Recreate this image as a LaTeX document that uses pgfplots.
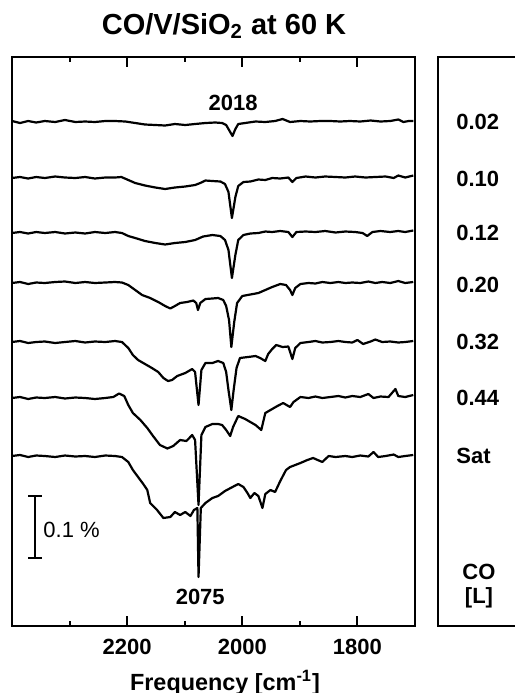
\documentclass[border=0pt]{standalone}
\usepackage{fontspec}
\setmainfont{Liberation Sans}
\usepackage{pgfplots}
\pgfplotsset{compat=1.18}

\begin{document}
\begin{tikzpicture}
\useasboundingbox (0pt,0pt) rectangle (257.5pt,346.5pt);
\begin{axis}[
  at={(6pt,33.5pt)}, anchor=south west, scale only axis,
  width=201.5pt, height=284.5pt,
  x dir=reverse, xmin=1700, xmax=2400,
  y dir=reverse, ymin=57, ymax=626,
  xtick={1800,2000,2200}, minor xtick={1900,2100,2300}, ytick=\empty,
  xtick pos=both, xticklabel pos=lower, tick align=inside,
  major tick length=5pt, minor tick length=2.5pt,
  every tick/.style={black, line width=1pt},
  axis line style={line width=1.3pt},
  /pgf/number format/assume math mode=true,
  /pgf/number format/1000 sep={},
  xticklabel style={font=\bfseries\fontsize{11}{13}\selectfont, yshift=-3pt},
]
% 0.02 L
\addplot[black, line width=1.1pt, line join=round] coordinates {
(2400,121)(2386,123)(2372,121)(2358,122.5)(2343,121)(2325,122)(2308,120)(2290,122)(2273,121.5)(2256,122)
(2238,121)(2221,121)(2203,121.5)(2186,123)(2169,124.5)(2151,125)(2134,125.5)(2117,124)(2099,125)(2082,124)
(2064,123)(2047,122.5)(2035,123)(2028,125)(2023,130)(2017,136)(2012,129)(2007,124)(1995,123)(1977,121.5)
(1960,122)(1943,121)(1930,119)(1917,122)(1899,121)(1882,121.5)(1864,121)(1847,121)(1830,121.5)(1813,121)
(1795,121.5)(1777,120.5)(1760,121.5)(1743,121)(1729,119.5)(1720,122)(1711,121)(1703,121)};
% 0.10 L
\addplot[black, line width=1.1pt, line join=round] coordinates {
(2400,178)(2386,177)(2372,178.5)(2358,177)(2343,178)(2325,176.5)(2308,177.5)(2290,178)(2273,177)(2256,178.5)
(2238,177.5)(2221,177.5)(2210,177)(2198,180)(2186,183)(2169,185.5)(2151,187.5)(2134,189)(2117,187.5)(2099,186.5)
(2082,185)(2073,183)(2064,180.5)(2052,181)(2038,181.5)(2030,184)(2024,192)(2018,218)(2012,197)(2007,186)
(1998,182)(1986,181.5)(1972,179.5)(1960,180)(1948,178)(1934,178.5)(1920,177.5)(1913,182)(1906,178)(1890,176.5)
(1873,177.5)(1856,176.5)(1838,177)(1821,177.5)(1804,176.5)(1786,177.5)(1769,177)(1751,176.5)(1737,178)(1729,175.5)
(1717,177.5)(1703,175.5)};
% 0.12 L
\addplot[black, line width=1.1pt, line join=round] coordinates {
(2400,233)(2386,232)(2372,233.5)(2358,232)(2343,233)(2325,232)(2308,233.5)(2290,232.5)(2273,233.5)(2256,232)
(2238,233)(2221,232)(2209,233)(2198,236)(2186,238)(2169,241)(2151,243)(2134,244.5)(2117,243)(2099,242)
(2082,240)(2068,236.5)(2052,235)(2038,236)(2030,240)(2024,250)(2018,278)(2012,255)(2007,240)(1998,235)
(1986,233.5)(1972,233)(1960,231.5)(1948,232)(1934,231)(1920,232)(1913,237)(1906,232)(1890,231.5)(1873,232)
(1856,231)(1838,232.5)(1821,231.5)(1804,232)(1791,233)(1783,236)(1774,232)(1760,231)(1743,232)(1729,231)
(1717,232)(1703,230.5)};
% 0.20 L
\addplot[black, line width=1.1pt, line join=round] coordinates {
(2400,283)(2386,282)(2372,284)(2358,282.5)(2343,283)(2325,282)(2308,281.5)(2290,283)(2273,282)(2256,283)
(2238,282.5)(2221,282)(2209,282.5)(2198,285)(2186,290)(2174,295)(2160,298)(2146,302)(2134,306)(2125,308.5)
(2117,306)(2108,303)(2096,302)(2085,300.5)(2080,303)(2077,310)(2073,303)(2064,299)(2052,298.5)(2042,298)
(2033,300)(2028,306)(2023,320)(2019,347)(2014,322)(2009,303)(2000,296)(1986,294.5)(1972,293)(1960,290)
(1948,287)(1934,284)(1924,285)(1917,290)(1913,295)(1908,288)(1899,284)(1885,283)(1873,283.5)(1861,282)
(1847,283)(1833,282)(1821,283)(1809,282.5)(1795,283)(1781,281.5)(1769,283)(1757,282)(1743,283)(1729,281)
(1717,283)(1703,282)};
% 0.32 L
\addplot[black, line width=1.1pt, line join=round] coordinates {
(2400,342)(2386,341)(2372,343)(2358,342)(2343,341.5)(2325,343)(2308,342)(2290,341)(2273,342.5)(2256,341.5)
(2238,342)(2221,341)(2209,342)(2198,348)(2190,355)(2181,360)(2169,364)(2157,368)(2146,372)(2137,378)
(2129,381)(2122,380)(2113,376)(2099,373)(2087,369)(2082,372)(2076,405)(2071,370)(2064,363)(2052,363)
(2042,361)(2033,363)(2028,372)(2024,390)(2019,410)(2015,390)(2010,368)(2004,358)(1990,357)(1977,356)
(1969,358)(1960,361)(1955,354)(1948,349)(1941,345)(1930,347)(1920,346.5)(1913,359)(1908,348)(1899,343)
(1885,342)(1873,341)(1861,342.5)(1847,342)(1833,341)(1821,342)(1809,342.5)(1800,340)(1790,344)(1777,341.5)
(1769,339.5)(1757,342)(1743,341.5)(1729,342.5)(1717,342)(1703,341)};
% 0.44 L
\addplot[black, line width=1.1pt, line join=round] coordinates {
(2400,398)(2386,397)(2372,399)(2358,397.5)(2343,398)(2325,397)(2308,398.5)(2290,397.5)(2273,398)(2256,399)
(2238,398)(2224,397)(2214,393.5)(2205,396)(2198,405)(2190,413)(2177,420)(2165,428)(2155,436)(2143,445)
(2130,448.5)(2120,446)(2108,440)(2097,441)(2087,435)(2082,440)(2076,505)(2071,435)(2064,427)(2052,424)
(2042,424)(2035,425)(2028,430)(2021,436)(2016,427)(2007,416)(1995,419)(1986,422)(1977,425)(1967,430)
(1960,413)(1951,410)(1939,406)(1929,403)(1917,407)(1911,402)(1899,397)(1885,398)(1873,396.5)(1861,398)
(1847,397)(1833,396)(1821,397.5)(1809,396)(1795,397)(1781,394)(1772,398)(1760,396.5)(1746,397)(1734,389)
(1729,396)(1717,397)(1703,395)};
% saturation
\addplot[black, line width=1.1pt, line join=round] coordinates {
(2400,456)(2386,455)(2372,457)(2358,455.5)(2343,456)(2325,457)(2308,455.5)(2290,456.5)(2273,456)(2256,457)
(2238,455.5)(2221,456)(2209,457)(2198,462)(2190,470)(2181,477)(2172,484)(2165,490)(2160,503)(2148,510)
(2137,518)(2125,517)(2117,512)(2108,515)(2099,512)(2090,516)(2084,510)(2078,508)(2076,577)(2072,508)
(2064,503)(2052,498)(2042,496)(2030,491)(2017,487)(2007,484)(1998,487)(1991,493)(1986,498)(1979,493)
(1972,496)(1965,508)(1960,494)(1951,490)(1943,492)(1934,481)(1924,470)(1917,467)(1899,463)(1887,460)
(1877,458)(1861,462)(1850,456)(1838,457)(1821,456)(1809,457)(1795,455.5)(1781,456.5)(1772,452)(1764,457)
(1751,456)(1737,454.5)(1729,457)(1717,456)(1703,455)};
% peak labels
\node[anchor=base, font=\bfseries\fontsize{11}{13}\selectfont] at (axis cs:2016,110) {2018};
\node[anchor=base, font=\bfseries\fontsize{11}{13}\selectfont] at (axis cs:2073,604) {2075};
% scale bar
\draw[line width=1pt] (axis cs:2360,496) -- (axis cs:2360,558);
\draw[line width=1pt] (axis cs:2372,496) -- (axis cs:2348,496);
\draw[line width=1pt] (axis cs:2372,558) -- (axis cs:2348,558);
\node[anchor=west, inner sep=0pt, font=\fontsize{11}{13}\selectfont] at (axis cs:2346,529.5) {0.1 \%};
\end{axis}
% title and x label
\node[anchor=base, font=\bfseries\fontsize{14.5}{17}\selectfont] at (112pt,329.5pt) {CO/V/SiO\textsubscript{2} at 60 K};
\node[anchor=base, font=\bfseries\fontsize{11.7}{14}\selectfont] at (112.5pt,1.5pt) {Frequency [cm\textsuperscript{-1}]};
% right panel with exposures
\draw[line width=1.3pt] (219pt,33.5pt) rectangle (275pt,318pt);
\begin{scope}[every node/.style={anchor=west, inner sep=0pt, font=\bfseries\fontsize{11}{13}\selectfont}]
\node at (228pt,285.5pt) {0.02};
\node at (228pt,257pt) {0.10};
\node at (228pt,230pt) {0.12};
\node at (228pt,204pt) {0.20};
\node at (228pt,175.5pt) {0.32};
\node at (228pt,147.5pt) {0.44};
\node at (228pt,118.5pt) {Sat};
\end{scope}
\node[font=\bfseries\fontsize{11}{13}\selectfont] at (239.5pt,60.5pt) {CO};
\node[font=\bfseries\fontsize{11}{13}\selectfont] at (239.5pt,47.5pt) {[L]};
\end{tikzpicture}
\end{document}
